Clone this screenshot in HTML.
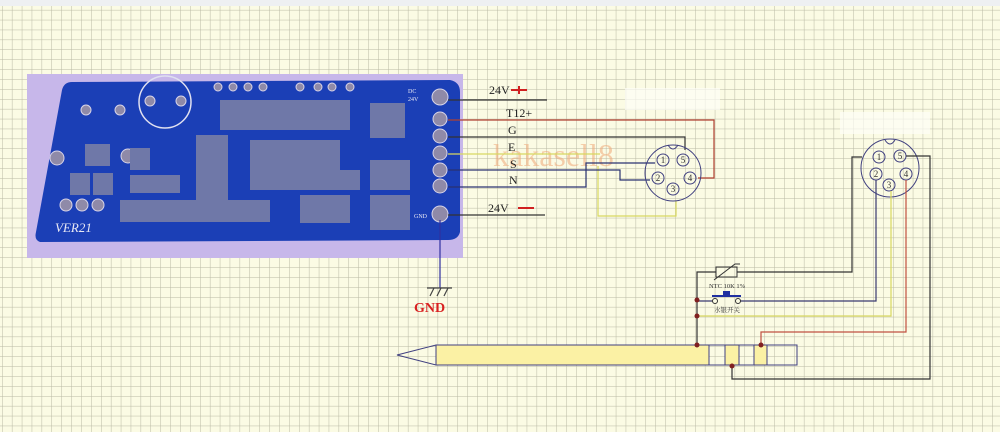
<!DOCTYPE html>
<html><head><meta charset="utf-8"><style>
html,body{margin:0;padding:0;background:#fff}
svg{display:block}
text{font-family:"Liberation Serif","Noto Serif CJK SC",serif}
</style></head><body>
<svg width="1000" height="432" viewBox="0 0 1000 432" xmlns="http://www.w3.org/2000/svg">
<defs>
<pattern id="g" x="2" y="0" width="9.9" height="9.9" patternUnits="userSpaceOnUse">
<rect width="9.9" height="9.9" fill="#fbfbe4"/>
<path d="M0 0H9.9M0 0V9.9" stroke="#b9b9a4" stroke-width="1" fill="none"/>
</pattern>
</defs>
<rect width="1000" height="432" fill="url(#g)"/>
<rect width="1000" height="6" fill="#eef0f2"/>
<rect x="625" y="88" width="95" height="22" fill="#fdfdf6" opacity="0.7"/>
<rect x="840" y="112" width="90" height="22" fill="#fdfdf6" opacity="0.7"/>

<rect x="27" y="74" width="436" height="184" fill="#c7b7ea"/>
<path d="M72 82 L450 80 Q460 82 460 92 L460 232 Q458 240 448 240 L40 242 Q34 240 36 232 L62 90 Q64 82 72 82Z" fill="#1b3fb6"/>
<g fill="#8f8aa8" stroke="#d8d4e8" stroke-width="1">
<circle cx="440" cy="97" r="8"/><circle cx="440" cy="119" r="7"/><circle cx="440" cy="136" r="7"/>
<circle cx="440" cy="153" r="7"/><circle cx="440" cy="170" r="7"/><circle cx="440" cy="186" r="7"/><circle cx="440" cy="214" r="8"/>
<circle cx="57" cy="158" r="7"/><circle cx="128" cy="156" r="7"/><circle cx="66" cy="205" r="6"/><circle cx="82" cy="205" r="6"/><circle cx="98" cy="205" r="6"/>
<circle cx="86" cy="110" r="5"/><circle cx="120" cy="110" r="5"/><circle cx="150" cy="101" r="5"/><circle cx="181" cy="101" r="5"/>
<circle cx="218" cy="87" r="4"/><circle cx="233" cy="87" r="4"/><circle cx="248" cy="87" r="4"/><circle cx="263" cy="87" r="4"/>
<circle cx="300" cy="87" r="4"/><circle cx="318" cy="87" r="4"/><circle cx="332" cy="87" r="4"/><circle cx="350" cy="87" r="4"/>
</g>
<circle cx="165" cy="102" r="26" fill="none" stroke="#e0e0f0" stroke-width="1.5"/>
<g fill="#6f78a8">
<rect x="85" y="144" width="25" height="22"/><rect x="70" y="173" width="20" height="22"/><rect x="93" y="173" width="20" height="22"/>
<rect x="130" y="148" width="20" height="22"/><rect x="130" y="175" width="50" height="18"/>
<rect x="196" y="135" width="32" height="65"/><rect x="220" y="100" width="130" height="30"/>
<rect x="250" y="140" width="90" height="30"/><rect x="250" y="170" width="110" height="20"/>
<rect x="120" y="200" width="150" height="22"/><rect x="300" y="195" width="50" height="28"/>
<rect x="370" y="160" width="40" height="30"/><rect x="370" y="195" width="40" height="35"/>
<rect x="370" y="103" width="35" height="35"/>
</g>
<text x="55" y="232" font-size="13" font-style="italic" fill="#e8e8f4">VER21</text>
<text x="408" y="93" font-size="6" fill="#e8e8f4">DC</text>
<text x="408" y="101" font-size="6" fill="#e8e8f4">24V</text>
<text x="414" y="218" font-size="6" fill="#e8e8f4">GND</text>

<text x="493" y="166" font-size="32" fill="#f0a878" opacity="0.55">kakasell8</text>

<g fill="none" stroke-width="1.2">
<path d="M448 100H547" stroke="#333"/>
<path d="M448 120H714V178H698" stroke="#b04030"/>
<path d="M448 137H685V150" stroke="#333"/>
<path d="M448 154H600M598 166V216H676V201" stroke="#d8d860"/>
<path d="M448 170H620V180H650" stroke="#2a3270"/>
<path d="M448 187H586V163H655" stroke="#2a3270"/>
<path d="M448 215H545" stroke="#333"/>
<path d="M440 220V288" stroke="#3030a0"/>
<path d="M427 288H452M430 296L434 288M437 296L441 288M444 296L448 288" stroke="#444"/>
</g>
<text x="489" y="94" font-size="12" fill="#222">24V</text>
<path d="M511 90H527M519 86V94" stroke="#d02020" stroke-width="2"/>
<text x="506" y="117" font-size="12" fill="#222">T12+</text>
<text x="508" y="134" font-size="12" fill="#222">G</text>
<text x="508" y="151" font-size="12" fill="#222">E</text>
<text x="510" y="168" font-size="12" fill="#222">S</text>
<text x="509" y="184" font-size="12" fill="#222">N</text>
<text x="488" y="212" font-size="12" fill="#222">24V</text>
<path d="M518 208H534" stroke="#d02020" stroke-width="2"/>
<text x="414" y="312" font-size="14" font-weight="bold" fill="#d82020">GND</text>

<g fill="none" stroke="#404080" stroke-width="1">
<circle cx="673" cy="173" r="28"/>
<circle cx="663" cy="160" r="6"/><circle cx="683" cy="160" r="6"/>
<circle cx="658" cy="178" r="6"/><circle cx="690" cy="178" r="6"/><circle cx="673" cy="189" r="6"/>
<path d="M668 145 Q673 153 678 145"/>
</g>
<g font-size="9" fill="#333" text-anchor="middle">
<text x="663" y="163">1</text><text x="683" y="163">5</text><text x="658" y="181">2</text><text x="690" y="181">4</text><text x="673" y="192">3</text>
</g>

<g fill="none" stroke="#404080" stroke-width="1">
<circle cx="890" cy="168" r="29"/>
<circle cx="879" cy="157" r="6"/><circle cx="900" cy="156" r="6"/>
<circle cx="876" cy="174" r="6"/><circle cx="906" cy="174" r="6"/><circle cx="889" cy="185" r="6"/>
<path d="M885 140 Q890 148 895 140"/>
</g>
<g font-size="9" fill="#333" text-anchor="middle">
<text x="879" y="160">1</text><text x="900" y="159">5</text><text x="876" y="177">2</text><text x="906" y="177">4</text><text x="889" y="188">3</text>
</g>

<g fill="none" stroke-width="1.2">
<path d="M862 157H852V272H737M716 272H697V345" stroke="#333"/>
<path d="M876 180V301H738M714 301H697" stroke="#3a3a70"/>
<path d="M891 191V316H697" stroke="#d8d860"/>
<path d="M906 180V332H761V345" stroke="#c05040"/>
<path d="M906 156H930V379H732V366" stroke="#333"/>
</g>
<rect x="716" y="267" width="21" height="10" fill="none" stroke="#333"/>
<path d="M714 280L735 264H740" fill="none" stroke="#333"/>
<text x="727" y="288" font-size="6.5" fill="#333" text-anchor="middle">NTC 10K 1%</text>
<path d="M712 296H741" stroke="#2030a0" stroke-width="2"/><rect x="723" y="291" width="7" height="4" fill="#2030a0"/>
<circle cx="715" cy="301" r="2.5" fill="#fbfbe4" stroke="#333"/><circle cx="738" cy="301" r="2.5" fill="#fbfbe4" stroke="#333"/>
<text x="727" y="312" font-size="6.5" fill="#333" text-anchor="middle" font-family="Liberation Sans,Noto Sans CJK SC,sans-serif">水银开关</text>

<path d="M397 355L436 345V365Z" fill="none" stroke="#404080"/>
<rect x="436" y="345" width="361" height="20" fill="none" stroke="#404080"/>
<rect x="436" y="345" width="273" height="20" fill="#fbf1a4" stroke="#404080"/>
<rect x="725" y="345" width="14" height="20" fill="#fbf1a4" stroke="#404080"/>
<rect x="754" y="345" width="13" height="20" fill="#fbf1a4" stroke="#404080"/>
<g fill="#802020">
<circle cx="697" cy="345" r="2.5"/><circle cx="697" cy="300" r="2.5"/><circle cx="697" cy="316" r="2.5"/>
<circle cx="761" cy="345" r="2.5"/><circle cx="732" cy="366" r="2.5"/>
</g>
</svg>
</body></html>
